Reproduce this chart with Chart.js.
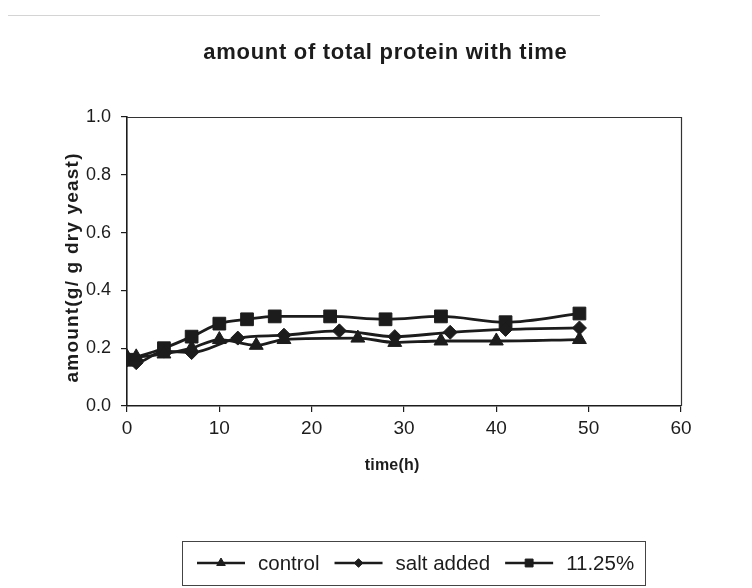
<!DOCTYPE html>
<html>
<head>
<meta charset="utf-8">
<script src="https://cdn.jsdelivr.net/npm/chart.js@4.4.1/dist/chart.umd.min.js"></script>
<style>
  html, body { margin: 0; padding: 0; background: #ffffff; }
  #wrap { width: 752px; height: 588px; position: relative; }
</style>
</head>
<body>
<div id="wrap"><canvas id="c" width="752" height="588"></canvas></div>
<script>
// Total protein (g per g dry yeast) sampled over fermentation time (h)
const chartTitle = 'amount of total protein with time';
const xAxisTitle = 'time(h)';
const yAxisTitle = 'amount(g/ g dry yeast)';

const controlTime   = [0, 1, 4, 7, 10, 14, 17, 25, 29, 34, 40, 49];
const controlAmount = [0.17, 0.17, 0.18, 0.20, 0.23, 0.21, 0.23, 0.235, 0.22, 0.225, 0.225, 0.23];

const saltTime   = [0, 1, 4, 7, 12, 17, 23, 29, 35, 41, 49];
const saltAmount = [0.16, 0.15, 0.19, 0.185, 0.235, 0.245, 0.26, 0.24, 0.255, 0.265, 0.27];

const highTime   = [0, 4, 7, 10, 13, 16, 22, 28, 34, 41, 49];
const highAmount = [0.16, 0.20, 0.24, 0.285, 0.30, 0.31, 0.31, 0.30, 0.31, 0.29, 0.32];

const seriesNames = ['control', 'salt added', '11.25%'];
const markerStyles = ['triangle', 'rectRot', 'rect'];
const markerSizes = [8, 7, 9];

const xMin = 0, xMax = 60, xStep = 10;
const yMin = 0, yMax = 1.0, yStep = 0.2;

const INK = '#1c1c1c';
const FONT = '"Liberation Sans", Arial, sans-serif';

function pairs(xs, ys) { return xs.map((x, i) => ({ x: x, y: ys[i] })); }

function makeSeries(i, xs, ys) {
  return {
    label: seriesNames[i],
    data: pairs(xs, ys),
    borderColor: INK,
    backgroundColor: INK,
    borderWidth: 2.8,
    pointStyle: markerStyles[i],
    pointRadius: markerSizes[i],
    pointHoverRadius: markerSizes[i],
    pointBackgroundColor: INK,
    pointBorderColor: INK,
    pointBorderWidth: 1,
    tension: 0.3,
    cubicInterpolationMode: 'monotone'
  };
}

function spacedText(ctx, text, x, y, spacing) {
  ctx.letterSpacing = spacing + 'px';
  // letter spacing adds trailing space after the last glyph; shift back by half of it
  ctx.fillText(text, x + spacing / 2, y);
  ctx.letterSpacing = '0px';
}

// Title, axis titles, plot frame and the boxed legend below the axes
const decorations = {
  id: 'decorations',
  beforeDraw(chart) {
    const ctx = chart.ctx;
    ctx.save();
    ctx.fillStyle = '#ffffff';
    ctx.fillRect(0, 0, chart.width, chart.height);
    // faint rule along the top of the sheet
    ctx.strokeStyle = '#d4d4d4';
    ctx.lineWidth = 1;
    ctx.beginPath();
    ctx.moveTo(8, 15.5);
    ctx.lineTo(600, 15.5);
    ctx.stroke();
    ctx.restore();
  },
  afterDraw(chart) {
    const ctx = chart.ctx;
    const a = chart.chartArea;
    ctx.save();
    // plot frame (top and right edges)
    ctx.strokeStyle = '#333';
    ctx.lineWidth = 1.2;
    ctx.beginPath();
    ctx.moveTo(a.left, a.top + 0.5);
    ctx.lineTo(a.right + 0.5, a.top + 0.5);
    ctx.lineTo(a.right + 0.5, a.bottom);
    ctx.stroke();

    ctx.fillStyle = INK;
    ctx.textAlign = 'center';
    ctx.textBaseline = 'middle';

    // chart title
    ctx.font = 'bold 22px ' + FONT;
    spacedText(ctx, chartTitle, 385, 53, 0.7);

    // x axis title
    ctx.font = 'bold 16px ' + FONT;
    spacedText(ctx, xAxisTitle, 392, 466, 0.2);

    // y axis title
    ctx.save();
    ctx.translate(73, 268);
    ctx.rotate(-Math.PI / 2);
    ctx.font = 'bold 19px ' + FONT;
    spacedText(ctx, yAxisTitle, 0, 0, 1.2);
    ctx.restore();

    // legend box
    const box = { l: 182, t: 541, r: 645, b: 585 };
    ctx.strokeStyle = '#444';
    ctx.lineWidth = 1;
    ctx.strokeRect(box.l + 0.5, box.t + 0.5, box.r - box.l, box.b - box.t);

    ctx.font = '20.5px ' + FONT;
    ctx.textAlign = 'left';
    const cy = 563;
    let x = 197;
    chart.data.datasets.forEach((ds) => {
      ctx.strokeStyle = INK;
      ctx.lineWidth = 2.4;
      ctx.beginPath();
      ctx.moveTo(x, cy);
      ctx.lineTo(x + 48, cy);
      ctx.stroke();
      ctx.fillStyle = INK;
      ctx.strokeStyle = INK;
      ctx.lineWidth = 1;
      Chart.helpers.drawPoint(ctx, {
        pointStyle: ds.pointStyle,
        rotation: 0,
        radius: ds.pointRadius * 0.62,
        borderWidth: 1
      }, x + 24, cy);
      ctx.fillStyle = INK;
      ctx.fillText(ds.label, x + 61, cy + 1);
      x += 61 + ctx.measureText(ds.label).width + 15;
    });
    ctx.restore();
  }
};

const ctx = document.getElementById('c').getContext('2d');
new Chart(ctx, {
  type: 'line',
  data: {
    datasets: [
      makeSeries(0, controlTime, controlAmount),
      makeSeries(1, saltTime, saltAmount),
      makeSeries(2, highTime, highAmount)
    ]
  },
  options: {
    responsive: false,
    animation: false,
    devicePixelRatio: 1,
    layout: { padding: { left: 0, right: 71, top: 117, bottom: 100 } },
    plugins: {
      legend: { display: false },
      title: { display: false },
      tooltip: { enabled: false }
    },
    scales: {
      x: {
        type: 'linear',
        min: xMin, max: xMax,
        ticks: {
          stepSize: xStep,
          color: INK,
          font: { family: FONT, size: 19 },
          padding: 5,
          maxRotation: 0,
          callback: v => String(v)
        },
        grid: { display: true, drawOnChartArea: false, drawTicks: true, tickLength: 6, color: INK, lineWidth: 1.2 },
        border: { display: true, color: INK, width: 1.6 },
        title: { display: false },
        afterFit(scale) { scale.height = 82; }
      },
      y: {
        type: 'linear',
        min: yMin, max: yMax,
        ticks: {
          stepSize: yStep,
          color: INK,
          font: { family: FONT, size: 18 },
          padding: 10,
          callback: v => Number(v).toFixed(1)
        },
        grid: { display: true, drawOnChartArea: false, drawTicks: true, tickLength: 6, color: INK, lineWidth: 1.2 },
        border: { display: true, color: INK, width: 1.6 },
        title: { display: false },
        afterFit(scale) { scale.width = 127; }
      }
    }
  },
  plugins: [decorations]
});
</script>
</body>
</html>
